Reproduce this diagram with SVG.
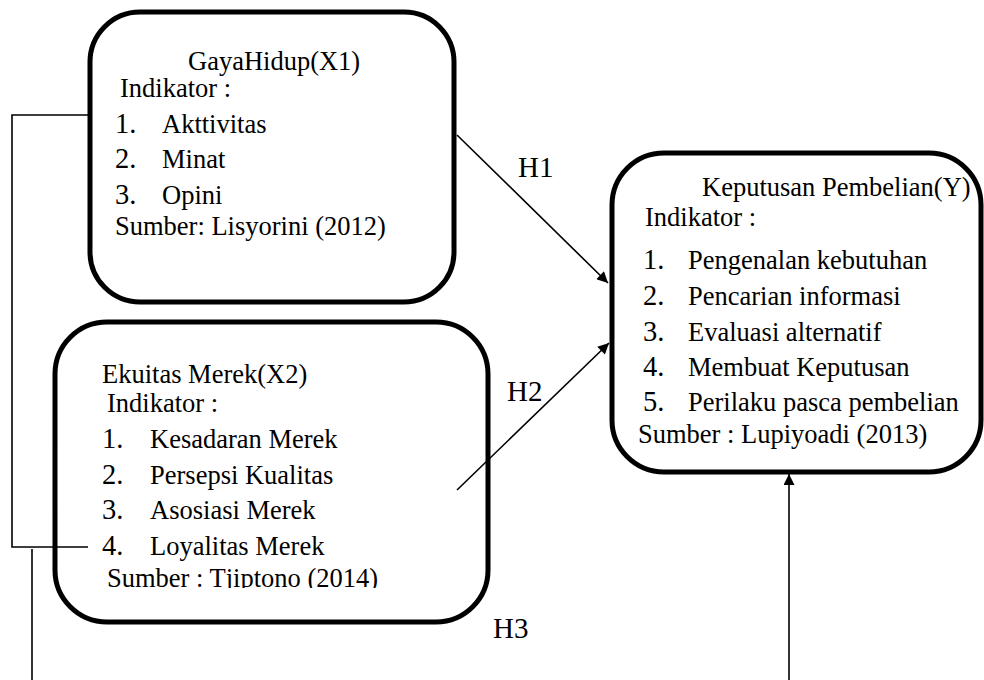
<svg xmlns="http://www.w3.org/2000/svg" width="984" height="680" viewBox="0 0 984 680">
<style>
.box{fill:#fff;stroke:#000;stroke-width:5}
.h{font-size:26.5px}
.n{font-size:28.5px}
.i{font-size:26.5px}
.lbl{font-size:29px}
.c{stroke:#000;stroke-width:1.6;fill:none}
</style>
<defs>
<marker id="ah" viewBox="0 0 10 10" refX="10" refY="5" markerWidth="12" markerHeight="11" markerUnits="userSpaceOnUse" orient="auto">
<path d="M0,0 L10,5 L0,10 z" fill="#000"/>
</marker>
<clipPath id="clip2"><rect x="0" y="0" width="984" height="588"/></clipPath>
</defs>
<rect width="984" height="680" fill="#fff"/>
<g font-family="Liberation Serif" fill="#000">
<g id="node-x1">
<rect class="box" x="90" y="12" width="364" height="290" rx="50" ry="50"/>
<text class="h" x="188" y="70">GayaHidup(X1)</text>
<text class="h" x="120" y="97">Indikator :</text>
<text class="n" x="115" y="133">1.</text><text class="i" x="162" y="133">Akttivitas</text>
<text class="n" x="115" y="168">2.</text><text class="i" x="162" y="168">Minat</text>
<text class="n" x="115" y="204">3.</text><text class="i" x="162" y="204">Opini</text>
<text class="h" x="115" y="235">Sumber: Lisyorini (2012)</text>
</g>
<g id="node-x2">
<rect class="box" x="55" y="322" width="433" height="300" rx="52" ry="52"/>
<text class="h" x="102" y="383">Ekuitas Merek(X2)</text>
<text class="h" x="107" y="412">Indikator :</text>
<text class="n" x="102" y="448">1.</text><text class="i" x="150" y="448">Kesadaran Merek</text>
<text class="n" x="102" y="484">2.</text><text class="i" x="150" y="484">Persepsi Kualitas</text>
<text class="n" x="102" y="519">3.</text><text class="i" x="150" y="519">Asosiasi Merek</text>
<text class="n" x="102" y="555">4.</text><text class="i" x="150" y="555">Loyalitas Merek</text>
<text class="h" x="107" y="587" clip-path="url(#clip2)">Sumber : Tjiptono (2014)</text>
</g>
<g id="node-y">
<rect class="box" x="612" y="153" width="369" height="319" rx="52" ry="52"/>
<text class="h" x="702" y="196">Keputusan Pembelian(Y)</text>
<text class="h" x="645" y="226">Indikator :</text>
<text class="n" x="643" y="269">1.</text><text class="i" x="688" y="269">Pengenalan kebutuhan</text>
<text class="n" x="643" y="305">2.</text><text class="i" x="688" y="305">Pencarian informasi</text>
<text class="n" x="643" y="341">3.</text><text class="i" x="688" y="341">Evaluasi alternatif</text>
<text class="n" x="643" y="376">4.</text><text class="i" x="688" y="376">Membuat Keputusan</text>
<text class="n" x="643" y="411">5.</text><text class="i" x="688" y="411">Perilaku pasca pembelian</text>
<text class="h" x="638" y="443">Sumber : Lupiyoadi (2013)</text>
</g>
<g id="labels">
<text class="lbl" x="518" y="177">H1</text>
<text class="lbl" x="507" y="401">H2</text>
<text class="lbl" x="493" y="638">H3</text>
</g>
</g>
<g id="connectors">
<polyline class="c" points="90,115 12,115 12,547 88,547"/>
<line class="c" x1="32" y1="549" x2="32" y2="680"/>
<line class="c" x1="457" y1="135" x2="608" y2="283" marker-end="url(#ah)"/>
<line class="c" x1="457" y1="490" x2="609" y2="343" marker-end="url(#ah)"/>
<line class="c" x1="789" y1="680" x2="789" y2="474" marker-end="url(#ah)"/>
</g>
</svg>
